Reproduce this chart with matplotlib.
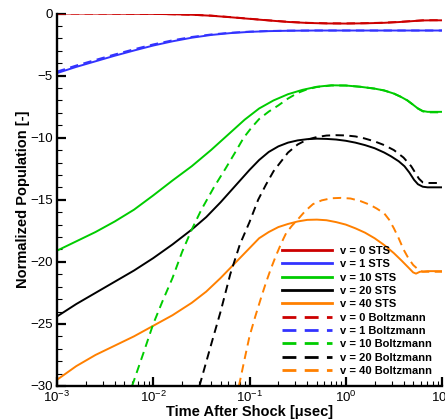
import numpy as np
import matplotlib
matplotlib.use("Agg")
import matplotlib.pyplot as plt
from matplotlib.ticker import LogLocator, MultipleLocator, NullFormatter
from matplotlib.lines import Line2D

plt.rcParams['font.family'] = ['Liberation Sans', 'DejaVu Sans']
plt.rcParams['mathtext.fontset'] = 'custom'
plt.rcParams['mathtext.rm'] = 'Liberation Sans'
plt.rcParams['mathtext.it'] = 'Liberation Sans:italic'

# log10 of time after shock [usec] and normalized population for each level
v0_sts_lgt = [-3, -2.5, -2, -1.8, -1.6, -1.4, -1.2, -1.0, -0.8, -0.6, -0.4, -0.2, 0, 0.2, 0.4, 0.55, 0.7, 0.8, 0.9, 1]
v0_sts = [0, -0.01, -0.03, -0.06, -0.1, -0.18, -0.3, -0.43, -0.56, -0.68, -0.76, -0.8, -0.81, -0.79, -0.75, -0.69, -0.61, -0.56, -0.55, -0.55]
v0_bz_lgt = v0_sts_lgt
v0_bz = [0, -0.01, -0.03, -0.06, -0.1, -0.17, -0.29, -0.42, -0.55, -0.67, -0.75, -0.79, -0.8, -0.78, -0.74, -0.68, -0.6, -0.55, -0.54, -0.54]

v1_sts_lgt = [-3, -2.8, -2.6, -2.4, -2.2, -2.0, -1.8, -1.6, -1.4, -1.2, -1.0, -0.8, -0.6, -0.3, 0, 0.5, 1]
v1_sts = [-4.8, -4.3, -3.85, -3.4, -2.98, -2.58, -2.24, -1.95, -1.73, -1.58, -1.48, -1.42, -1.39, -1.37, -1.37, -1.37, -1.37]
v1_bz_lgt = v1_sts_lgt
v1_bz = [-4.68, -4.19, -3.74, -3.3, -2.88, -2.49, -2.16, -1.89, -1.69, -1.55, -1.46, -1.41, -1.38, -1.37, -1.37, -1.37, -1.37]

v10_sts_lgt = [-3, -2.8, -2.6, -2.4, -2.2, -2.0, -1.8, -1.6, -1.4, -1.2, -1.05, -0.9, -0.75, -0.6, -0.45, -0.3, -0.15,
               0, 0.15, 0.3, 0.4, 0.5, 0.57, 0.64, 0.7, 0.75, 0.8, 0.85, 1]
v10_sts = [-19.1, -18.35, -17.6, -16.75, -15.8, -14.65, -13.45, -12.3, -11.0, -9.6, -8.55, -7.65, -7.0, -6.5, -6.15, -5.9, -5.78,
           -5.8, -5.9, -6.05, -6.2, -6.45, -6.7, -7.0, -7.35, -7.65, -7.85, -7.92, -7.92]
v10_bz_lgt = [-2.22, -2.1, -2.0, -1.9, -1.8, -1.7, -1.6, -1.5, -1.37, -1.25, -1.15, -1.06, -0.98, -0.9, -0.8, -0.7, -0.6,
              -0.5, -0.4, -0.3, -0.15, 0, 0.15, 0.3, 0.4, 0.5, 0.57, 0.64, 0.7, 0.75, 0.8, 0.85, 1]
v10_bz = [-30, -27.3, -25.0, -23.1, -21.3, -19.2, -17.4, -15.8, -14.0, -12.5, -11.2, -10.0, -9.2, -8.5, -7.9, -7.4, -6.85,
          -6.4, -6.1, -5.92, -5.8, -5.8, -5.9, -6.05, -6.2, -6.45, -6.7, -7.0, -7.35, -7.65, -7.88, -7.96, -7.96]

v20_sts_lgt = [-3, -2.8, -2.6, -2.4, -2.2, -2.0, -1.8, -1.6, -1.45, -1.3, -1.15, -1.0, -0.9, -0.8, -0.7, -0.6, -0.5, -0.4,
               -0.3, -0.2, -0.1, 0, 0.1, 0.2, 0.3, 0.4, 0.47, 0.55, 0.61, 0.66, 0.71, 0.75, 0.8, 0.85, 1]
v20_sts = [-24.4, -23.4, -22.5, -21.6, -20.7, -19.7, -18.6, -17.4, -16.4, -15.2, -13.9, -12.6, -11.8, -11.15, -10.7, -10.4,
           -10.22, -10.12, -10.08, -10.1, -10.15, -10.25, -10.4, -10.6, -10.85, -11.2, -11.5, -11.9, -12.3, -12.8, -13.4,
           -13.75, -13.95, -14.0, -14.0]
v20_bz_lgt = [-1.52, -1.4, -1.3, -1.2, -1.1, -1.0, -0.91, -0.83, -0.75, -0.67, -0.6, -0.5, -0.4, -0.3, -0.2, -0.1, 0, 0.1,
              0.19, 0.3, 0.4, 0.5, 0.6, 0.68, 0.72, 0.76, 0.8, 0.85, 1]
v20_bz = [-30, -26.7, -24.0, -21.0, -18.6, -16.8, -15.0, -13.8, -12.7, -11.9, -11.2, -10.55, -10.15, -9.95, -9.83, -9.8,
          -9.82, -9.9, -10.05, -10.3, -10.6, -11.0, -11.6, -12.3, -12.8, -13.3, -13.6, -13.65, -13.65]

v40_sts_lgt = [-3, -2.8, -2.6, -2.4, -2.2, -2.0, -1.8, -1.6, -1.45, -1.3, -1.15, -1.0, -0.9, -0.8, -0.7, -0.6, -0.5, -0.4,
               -0.3, -0.2, -0.1, 0, 0.1, 0.2, 0.3, 0.4, 0.5, 0.58, 0.65, 0.7, 0.73, 0.77, 0.85, 1]
v40_sts = [-29.5, -28.4, -27.5, -26.75, -26.0, -25.15, -24.3, -23.3, -22.4, -21.3, -20.1, -18.9, -18.1, -17.6, -17.2, -16.95,
           -16.75, -16.62, -16.6, -16.65, -16.8, -17.0, -17.3, -17.65, -18.1, -18.65, -19.3, -19.9, -20.45, -20.85, -20.95,
           -20.8, -20.75, -20.75]
v40_bz_lgt = [-1.11, -1.05, -1.0, -0.94, -0.88, -0.83, -0.78, -0.73, -0.67, -0.62, -0.56, -0.5, -0.42, -0.34, -0.25, -0.15,
              -0.05, 0.05, 0.15, 0.25, 0.32, 0.4, 0.45, 0.5, 0.55, 0.6, 0.65, 0.7, 0.75, 0.8, 0.85, 1]
v40_bz = [-30, -27.8, -26.0, -24.4, -22.9, -21.7, -20.6, -19.6, -18.5, -17.7, -17.1, -16.6, -15.9, -15.35, -15.05, -14.88,
          -14.85, -14.9, -15.1, -15.4, -15.7, -16.1, -16.6, -17.3, -18.1, -19.0, -19.7, -20.25, -20.6, -20.8, -20.8, -20.8]

levels = ['0', '1', '10', '20', '40']
colors = ['#cc0000', '#3333ff', '#00cc00', '#000000', '#ff8000']
sts = [(v0_sts_lgt, v0_sts), (v1_sts_lgt, v1_sts), (v10_sts_lgt, v10_sts),
       (v20_sts_lgt, v20_sts), (v40_sts_lgt, v40_sts)]
bz = [(v0_bz_lgt, v0_bz), (v1_bz_lgt, v1_bz), (v10_bz_lgt, v10_bz),
      (v20_bz_lgt, v20_bz), (v40_bz_lgt, v40_bz)]

fig = plt.figure(figsize=(4.45, 4.2), dpi=100)
ax = fig.add_axes([57 / 445, 1 - 386 / 420, 385 / 445, 372.5 / 420])

lw = 1.4
dash = (4.3, 2.8)
for (lgt, y), c in zip(sts, colors):
    ax.plot(np.power(10.0, lgt), y, color=c, lw=lw, solid_joinstyle='round')
for (lgt, y), c in zip(bz, colors):
    ax.plot(np.power(10.0, lgt), y, color=c, lw=lw, dashes=dash)

ax.set_xscale('log')
ax.set_xlim(1e-3, 10)
ax.set_ylim(-30, 0)
ax.yaxis.set_major_locator(MultipleLocator(5))
ax.yaxis.set_minor_locator(MultipleLocator(1))
ax.xaxis.set_major_locator(LogLocator(base=10, numticks=10))
ax.xaxis.set_minor_locator(LogLocator(base=10, subs=np.arange(2, 10), numticks=20))
ax.xaxis.set_minor_formatter(NullFormatter())

for s in ['top', 'right']:
    ax.spines[s].set_visible(False)
for s in ['left', 'bottom']:
    ax.spines[s].set_linewidth(1.7)

ax.tick_params(which='major', direction='in', length=6.5, width=1.6, labelsize=9.5, pad=3)
ax.tick_params(which='minor', direction='in', length=3.5, width=0.8)

ax.set_xlabel('Time After Shock [\u03bcsec]', fontsize=10.5, fontweight='bold', labelpad=0)
ax.set_ylabel('Normalized Population [-]', fontsize=10.5, fontweight='bold', labelpad=0)

handles = [Line2D([], [], color=c, lw=2) for c in colors]
handles += [Line2D([], [], color=c, lw=2, dashes=(5, 3)) for c in colors]
labels = [f'v = {v} STS' for v in levels] + [f'v = {v} Boltzmann' for v in levels]
leg = fig.legend(handles, labels, loc='upper left', bbox_to_anchor=(282 / 445, 1 - 246 / 420),
                 frameon=False, borderpad=0, borderaxespad=0, handlelength=4.5,
                 handletextpad=0.7, labelspacing=0.3,
                 prop={'weight': 'bold', 'size': 8})

fig.savefig('out.png', dpi=100)
